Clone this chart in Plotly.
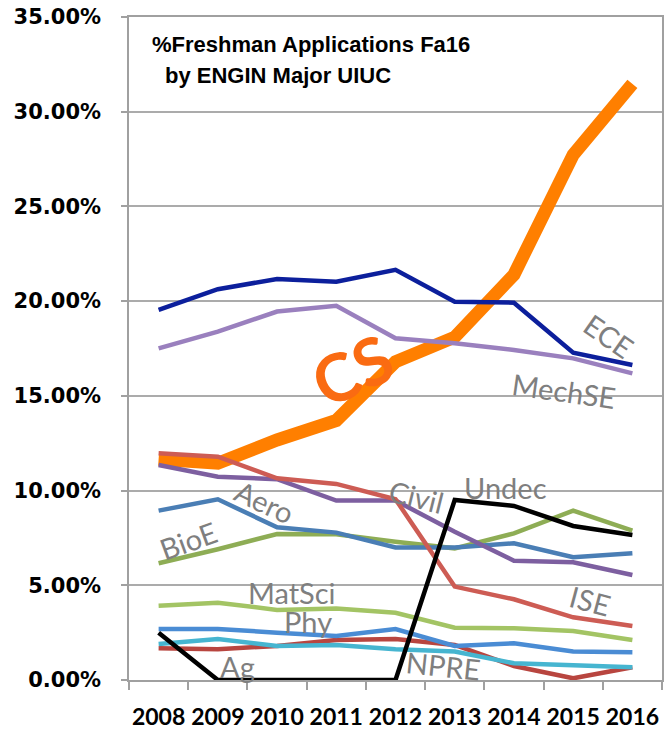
import plotly.graph_objects as go

years = ["2008", "2009", "2010", "2011", "2012", "2013", "2014", "2015", "2016"]

cs     = [11.65, 11.44, 12.67, 13.70, 16.80, 18.10, 21.40, 27.72, 31.47]
ece    = [19.54, 20.63, 21.17, 21.03, 21.65, 19.97, 19.92, 17.28, 16.63]
mechse = [17.51, 18.39, 19.45, 19.75, 18.04, 17.78, 17.42, 16.98, 16.19]
civil  = [11.35, 10.73, 10.60, 9.47, 9.47, 7.83, 6.30, 6.21, 5.54]
ise    = [11.97, 11.79, 10.65, 10.35, 9.54, 4.93, 4.26, 3.31, 2.85]
aero   = [8.94, 9.54, 8.06, 7.78, 7.00, 7.00, 7.22, 6.48, 6.69]
bioe   = [6.16, 6.90, 7.71, 7.69, 7.30, 6.95, 7.74, 8.94, 7.88]
undec  = [2.50, 0.00, 0.00, 0.00, 0.00, 9.50, 9.19, 8.13, 7.66]
matsci = [3.92, 4.08, 3.70, 3.78, 3.55, 2.76, 2.73, 2.59, 2.11]
phy    = [2.69, 2.69, 2.50, 2.32, 2.69, 1.80, 1.94, 1.50, 1.46]
npre   = [1.90, 2.16, 1.80, 1.85, 1.62, 1.50, 0.88, 0.79, 0.67]
ag     = [1.67, 1.62, 1.80, 2.11, 2.16, 1.85, 0.74, 0.09, 0.67]

y_ticks = [0, 5, 10, 15, 20, 25, 30, 35]

series = [
    ("CS", cs, "#FF7F00", 13),
    ("Ag", ag, "#B8453F", 4.5),
    ("NPRE", npre, "#46B5D0", 4.5),
    ("Phy", phy, "#4A8CD4", 4.5),
    ("MatSci", matsci, "#A3C464", 4.5),
    ("BioE", bioe, "#8EAD55", 4.5),
    ("Aero", aero, "#4A7EB5", 4.5),
    ("Civil", civil, "#7D5FA0", 4.5),
    ("ISE", ise, "#CD5C54", 4.5),
    ("Undec", undec, "#000000", 4.5),
    ("MechSE", mechse, "#9A80BE", 4.5),
    ("ECE", ece, "#0C1F9C", 4.5),
]

fig = go.Figure()
for name, vals, color, w in series:
    fig.add_trace(go.Scatter(
        x=years, y=[v / 100 for v in vals], mode="lines", name=name,
        line=dict(color=color, width=w), showlegend=False, hoverinfo="skip",
    ))

gray = "#7F7F7F"
lab_font = dict(family="Lato", size=29, color=gray)
labels = [
    ("ECE", 7.6, 0.182, 35),
    ("MechSE", 6.84, 0.153, 8),
    ("Aero", 1.78, 0.094, 25),
    ("BioE", 0.49, 0.0739, -20),
    ("Civil", 4.36, 0.097, 14),
    ("Undec", 5.86, 0.1015, 0),
    ("ISE", 7.29, 0.0422, 15),
    ("MatSci", 2.26, 0.046, 0),
    ("Phy", 2.53, 0.0308, 0),
    ("Ag", 1.33, 0.0073, 0),
    ("NPRE", 4.81, 0.0074, 6),
]
for t, xi, yv, ang in labels:
    fig.add_annotation(x=xi, y=yv, xref="x", yref="y", text=t, showarrow=False,
                       textangle=ang, font=lab_font)

fig.add_annotation(x=3.26, y=0.164, xref="x", yref="y", text="<b>CS</b>", showarrow=False,
                   textangle=-25, font=dict(family="Lato", size=66, color="#FA6B12"))

title_font = dict(family="Liberation Sans", size=22, color="#000000", weight="bold")
fig.add_annotation(x=-0.15, y=0.3432, xref="x", yref="y", text="%Freshman Applications Fa16",
                   showarrow=False, xanchor="left", yanchor="top", font=title_font)
fig.add_annotation(x=0.07, y=0.3267, xref="x", yref="y", text="by ENGIN Major UIUC",
                   showarrow=False, xanchor="left", yanchor="top", font=title_font)

axis_gray = "#A0A0A0"
fig.update_layout(
    width=666, height=733,
    margin=dict(l=129, r=4, t=17, b=53),
    paper_bgcolor="white", plot_bgcolor="white",
    xaxis=dict(type="category", range=[-0.5, 8.5], tickson="boundaries",
               ticks="outside", ticklen=8, tickcolor=axis_gray, tickwidth=1.5,
               showline=True, linecolor=axis_gray, linewidth=1.5, mirror=True,
               showgrid=False, ticklabelstandoff=16, tickangle=0, automargin=False,
               tickfont=dict(family="Lato", size=23, color="#000000", weight="bold")),
    yaxis=dict(range=[0, 0.35], tickvals=[v / 100 for v in y_ticks], tickformat=".2%",
               ticks="outside", ticklen=6, tickcolor=axis_gray, tickwidth=1.5,
               showline=True, linecolor=axis_gray, linewidth=1.5, mirror=True,
               showgrid=True, gridcolor="#ABABAB", gridwidth=1.5, zeroline=False,
               ticklabelstandoff=16, automargin=False,
               tickfont=dict(family="DejaVu Sans", size=21, color="#000000", weight="bold")),
)

fig.write_html("out.html", config={"displayModeBar": False},
               post_script="document.body.style.margin='0px';document.body.style.overflow='hidden';")
